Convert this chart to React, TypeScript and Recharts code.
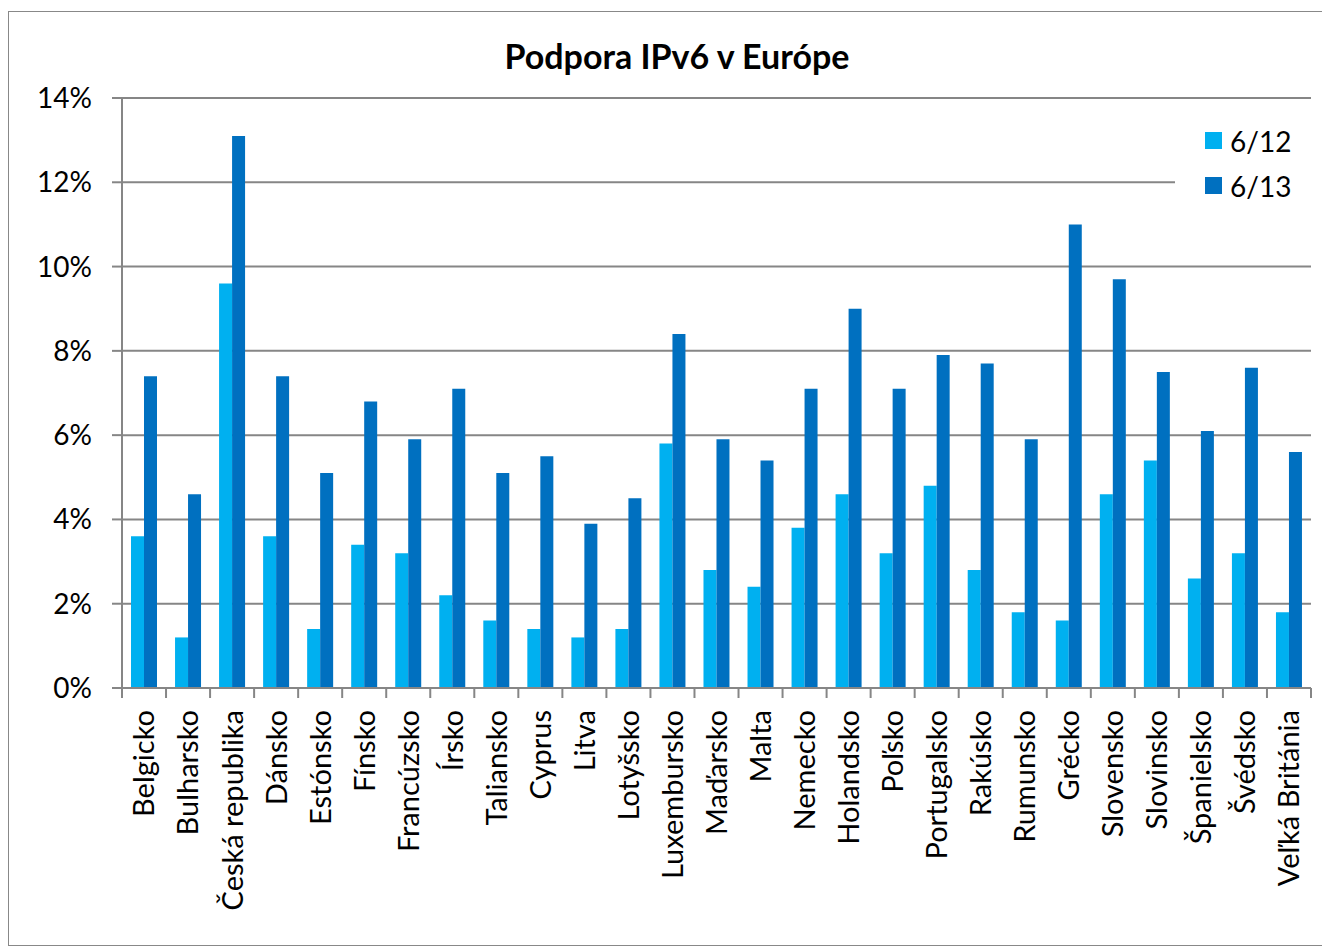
import React from 'react';
import { BarChart, Bar, XAxis, YAxis, CartesianGrid } from 'recharts';

const countries = [
  'Belgicko', 'Bulharsko', 'Česká republika', 'Dánsko', 'Estónsko', 'Fínsko',
  'Francúzsko', 'Írsko', 'Taliansko', 'Cyprus', 'Litva', 'Lotyšsko',
  'Luxembursko', 'Maďarsko', 'Malta', 'Nemecko', 'Holandsko', 'Poľsko',
  'Portugalsko', 'Rakúsko', 'Rumunsko', 'Grécko', 'Slovensko', 'Slovinsko',
  'Španielsko', 'Švédsko', 'Veľká Británia',
];

const jun12 = [
  3.6, 1.2, 9.6, 3.6, 1.4, 3.4, 3.2, 2.2, 1.6, 1.4, 1.2, 1.4, 5.8, 2.8,
  2.4, 3.8, 4.6, 3.2, 4.8, 2.8, 1.8, 1.6, 4.6, 5.4, 2.6, 3.2, 1.8,
];

const jun13 = [
  7.4, 4.6, 13.1, 7.4, 5.1, 6.8, 5.9, 7.1, 5.1, 5.5, 3.9, 4.5, 8.4, 5.9,
  5.4, 7.1, 9.0, 7.1, 7.9, 7.7, 5.9, 11.0, 9.7, 7.5, 6.1, 7.6, 5.6,
];

const yTicks = [0, 2, 4, 6, 8, 10, 12, 14];

const series = [
  { key: 'jun12', name: '6/12', color: '#00B0F0' },
  { key: 'jun13', name: '6/13', color: '#0070C0' },
];

const data = countries.map((country, i) => ({ country, jun12: jun12[i], jun13: jun13[i] }));

const FONT = 'Lato, "Noto Sans", sans-serif';
const AXIS = '#868686';
const STEP = 1189 / countries.length;

function CountryTick(props: any) {
  const { x, y, payload, index } = props;
  const last = index === countries.length - 1;
  return (
    <g>
      <line x1={x - STEP / 2} x2={x - STEP / 2} y1={y} y2={y + 10} stroke={AXIS} strokeWidth={2} />
      {last && <line x1={x + STEP / 2} x2={x + STEP / 2} y1={y} y2={y + 10} stroke={AXIS} strokeWidth={2} />}
      <text
        x={x}
        y={y + 22}
        transform={`rotate(-90 ${x} ${y + 22})`}
        textAnchor="end"
        dy="0.36em"
        fontSize={29}
        fontFamily={FONT}
        fill="#000"
      >
        {payload.value}
      </text>
    </g>
  );
}

function LegendBox() {
  return (
    <div
      style={{
        position: 'absolute',
        top: 103,
        left: 1166,
        width: 140,
        height: 100,
        paddingTop: 3,
        boxSizing: 'border-box',
        background: '#fff',
      }}
    >
      {series.map((s) => (
        <div key={s.key} style={{ display: 'flex', alignItems: 'center', height: 45, paddingLeft: 30 }}>
          <div style={{ width: 17, height: 17, background: s.color, marginRight: 8 }} />
          <span style={{ fontSize: 28, fontFamily: FONT, color: '#000' }}>{s.name}</span>
        </div>
      ))}
    </div>
  );
}

export default function App() {
  return (
    <div
      style={{
        position: 'relative',
        width: 1320,
        height: 933,
        marginTop: 3,
        border: '1px solid #888',
        background: '#fff',
      }}
    >
      <div
        style={{
          position: 'absolute',
          top: 23,
          left: 0,
          width: 1336,
          textAlign: 'center',
          fontFamily: FONT,
          fontWeight: 'bold',
          fontSize: 34,
          color: '#000',
        }}
      >
        Podpora IPv6 v Európe
      </div>
      <BarChart
        width={1320}
        height={933}
        data={data}
        margin={{ top: 86, right: 18, left: 0, bottom: 0 }}
        barSize={13}
        barGap={0}
      >
        <CartesianGrid vertical={false} stroke={AXIS} strokeWidth={2} />
        <XAxis
          dataKey="country"
          interval={0}
          height={257}
          tickLine={false}
          tickSize={0}
          tickMargin={0}
          axisLine={{ stroke: AXIS, strokeWidth: 2 }}
          tick={<CountryTick />}
        />
        <YAxis
          width={113}
          domain={[0, 14]}
          ticks={yTicks}
          interval={0}
          tickFormatter={(v) => `${v}%`}
          tickSize={10}
          tickMargin={20}
          tickLine={{ stroke: AXIS, strokeWidth: 2 }}
          axisLine={{ stroke: AXIS, strokeWidth: 2 }}
          tick={{ fontSize: 28, fontFamily: FONT, fill: '#000' }}
        />
        {series.map((s) => (
          <Bar key={s.key} dataKey={s.key} name={s.name} fill={s.color} isAnimationActive={false} />
        ))}
      </BarChart>
      <LegendBox />
    </div>
  );
}
